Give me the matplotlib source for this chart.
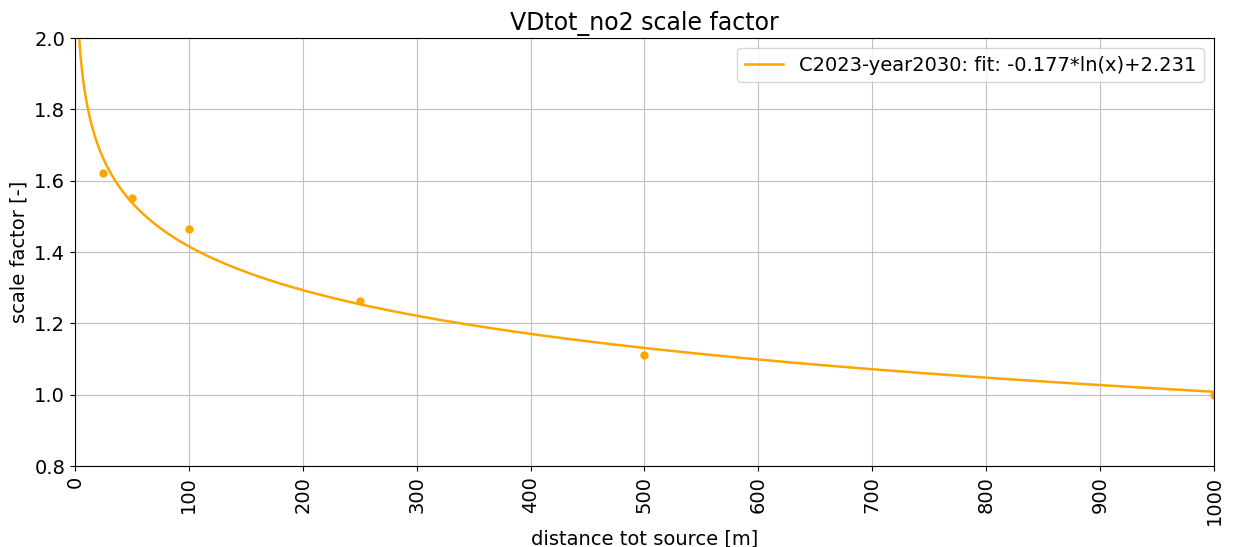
import numpy as np
import matplotlib
matplotlib.use('Agg')
import matplotlib.pyplot as plt

# measured scale factors per distance to source
distance = [25, 50, 100, 250, 500, 1000]
scale_factor = [1.621, 1.551, 1.464, 1.262, 1.111, 1.0]

# log fit coefficients
fit_a = -0.177
fit_b = 2.231
label = 'C2023-year2030: fit: %.3f*ln(x)+%.3f' % (fit_a, fit_b)

x_fit = np.linspace(1, 1000, 2000)
y_fit = fit_a * np.log(x_fit) + fit_b

plt.rcParams['font.size'] = 14
fig = plt.figure(figsize=(12.35, 5.47), dpi=100)
ax = fig.add_axes([0.0607, 0.148, 0.9222, 0.7825])
ax.plot(x_fit, y_fit, color='orange', linewidth=1.8, label=label)
ax.plot(distance, scale_factor, 'o', color='orange', markersize=5)
ax.set_xlim(0, 1000)
ax.set_ylim(0.8, 2.0)
ax.set_xticks(np.arange(0, 1001, 100))
plt.xticks(rotation=90)
ax.grid(True, color='#c0c0c0')
ax.set_xlabel('distance tot source [m]', labelpad=3)
ax.set_ylabel('scale factor [-]')
ax.set_title('VDtot_no2 scale factor', fontsize=17)
ax.legend(loc='upper right')
fig.savefig('out.png', dpi=100)
